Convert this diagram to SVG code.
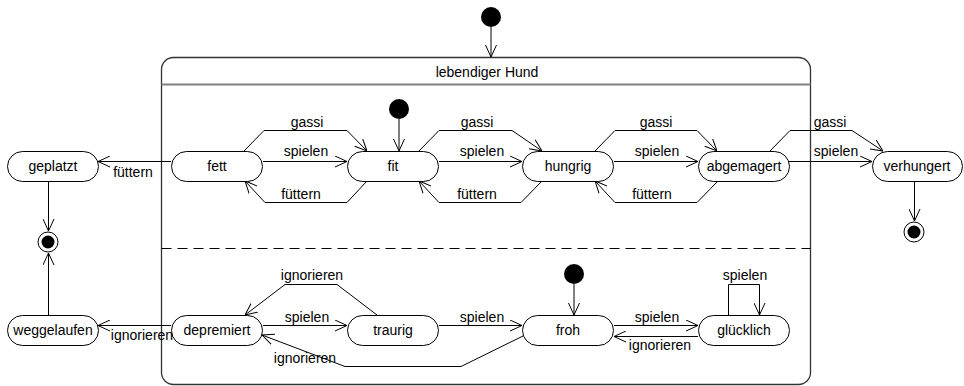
<svg xmlns="http://www.w3.org/2000/svg" width="964" height="386" viewBox="0 0 964 386">
<defs>
<marker id="arr" viewBox="0 0 12 12" refX="12" refY="6" markerWidth="12" markerHeight="12" orient="auto" markerUnits="userSpaceOnUse"><path d="M0,0.5 L12,6 L0,11.5" fill="none" stroke="#000" stroke-width="1"/></marker>
<style>
text{font-family:"Liberation Sans",Arial,sans-serif;font-size:14px;fill:#000;text-anchor:middle}
.st{fill:#fff;stroke:#000;stroke-width:1}
.c{fill:none;stroke:#000;stroke-width:1;marker-end:url(#arr)}
.ini{fill:#000}
.fin{fill:#fff;stroke:#000;stroke-width:1}
</style>
</defs>
<rect width="964" height="386" fill="#fff"/>
<g id="composite">
<rect x="161.5" y="57.5" width="649" height="327" rx="12" ry="12" fill="none" stroke="#333" stroke-width="1.3"/>
<line x1="161.5" y1="84.5" x2="810.5" y2="84.5" stroke="#808080" stroke-width="2"/>
<line x1="161.5" y1="248.5" x2="810.5" y2="248.5" stroke="#000" stroke-width="1" stroke-dasharray="10,6"/>
<text x="487" y="77">lebendiger Hund</text>
</g>
<g id="init-top"><circle class="ini" cx="491" cy="17" r="10"/></g>
<g id="init-upper"><circle class="ini" cx="399" cy="109" r="10"/></g>
<g id="init-lower"><circle class="ini" cx="574" cy="274" r="10"/></g>
<g id="final-left"><circle class="fin" cx="48" cy="242" r="10"/><circle class="ini" cx="48" cy="242" r="6.5"/></g>
<g id="final-right"><circle class="fin" cx="914" cy="232" r="10"/><circle class="ini" cx="914" cy="232" r="6.5"/></g>
<g id="geplatzt"><rect class="st" x="7.5" y="151.5" width="91" height="30" rx="15"/><text x="53" y="171">geplatzt</text></g>
<g id="fett"><rect class="st" x="171.5" y="151.5" width="91" height="30" rx="15"/><text x="217" y="171">fett</text></g>
<g id="fit"><rect class="st" x="347.5" y="151.5" width="91" height="30" rx="15"/><text x="393" y="171">fit</text></g>
<g id="hungrig"><rect class="st" x="522.5" y="151.5" width="91" height="30" rx="15"/><text x="568" y="171">hungrig</text></g>
<g id="abgemagert"><rect class="st" x="698.5" y="151.5" width="91" height="30" rx="15"/><text x="744" y="171">abgemagert</text></g>
<g id="verhungert"><rect class="st" x="872.5" y="151.5" width="90" height="30" rx="15"/><text x="917" y="171">verhungert</text></g>
<g id="weggelaufen"><rect class="st" x="7.5" y="315.5" width="91" height="30" rx="15"/><text x="53" y="335">weggelaufen</text></g>
<g id="depremiert"><rect class="st" x="171.5" y="315.5" width="91" height="30" rx="15"/><text x="217" y="335">depremiert</text></g>
<g id="traurig"><rect class="st" x="347.5" y="315.5" width="91" height="30" rx="15"/><text x="393" y="335">traurig</text></g>
<g id="froh"><rect class="st" x="522.5" y="315.5" width="91" height="30" rx="15"/><text x="568" y="335">froh</text></g>
<g id="gluecklich"><rect class="st" x="698.5" y="315.5" width="91" height="30" rx="15"/><text x="744" y="335">glücklich</text></g>
<g id="connectors">
<path class="c" d="M491,27 L491,57"/>
<path class="c" d="M399,119 L399,151"/>
<path class="c" d="M574,284 L574,315"/>
<path class="c" d="M171,161.5 L98,161.5"/>
<path class="c" d="M171,325.5 L98,325.5"/>
<path class="c" d="M48.5,181 L48.5,231"/>
<path class="c" d="M48.5,315 L48.5,253"/>
<path class="c" d="M914.5,181 L914.5,221"/>
<path class="c" d="M244,151 L264,130.5 L347,130.5 L367,151"/>
<path class="c" d="M263,161.5 L347,161.5"/>
<path class="c" d="M367,181 L347,202.5 L265,202.5 L245,181"/>
<path class="c" d="M419,151 L439,130.5 L512,130.5 L542,151"/>
<path class="c" d="M439,161.5 L522,161.5"/>
<path class="c" d="M542,181 L521,202.5 L439,202.5 L419,181"/>
<path class="c" d="M595,151 L615,130.5 L697,130.5 L717,151"/>
<path class="c" d="M614,161.5 L698,161.5"/>
<path class="c" d="M718,181 L697,202.5 L615,202.5 L595,181"/>
<path class="c" d="M770,151 L790,130.5 L852,130.5 L883,151"/>
<path class="c" d="M789,161.5 L872,161.5"/>
<path class="c" d="M263,325.5 L347,325.5"/>
<path class="c" d="M377,315 L337,284.5 L285,284.5 L245,315"/>
<path class="c" d="M439,325.5 L522,325.5"/>
<path class="c" d="M523,336 L461,366.5 L345,366.5 L262,335"/>
<path class="c" d="M614,325.5 L698,325.5"/>
<path class="c" d="M698,336.5 L614,336.5"/>
<path class="c" d="M728.5,315 L728.5,284.5 L759.5,284.5 L759.5,315"/>
</g>
<g id="labels">
<text x="133" y="177">füttern</text>
<text x="307" y="127">gassi</text>
<text x="306" y="156">spielen</text>
<text x="301" y="199">füttern</text>
<text x="477" y="127">gassi</text>
<text x="482" y="156">spielen</text>
<text x="477" y="199">füttern</text>
<text x="656" y="127">gassi</text>
<text x="657" y="156">spielen</text>
<text x="652" y="199">füttern</text>
<text x="830" y="127">gassi</text>
<text x="836" y="156">spielen</text>
<text x="142" y="340">ignorieren</text>
<text x="307" y="322">spielen</text>
<text x="312" y="280">ignorieren</text>
<text x="305" y="363">ignorieren</text>
<text x="482" y="322">spielen</text>
<text x="657" y="322">spielen</text>
<text x="660" y="350">ignorieren</text>
<text x="745" y="280">spielen</text>
</g>
</svg>
